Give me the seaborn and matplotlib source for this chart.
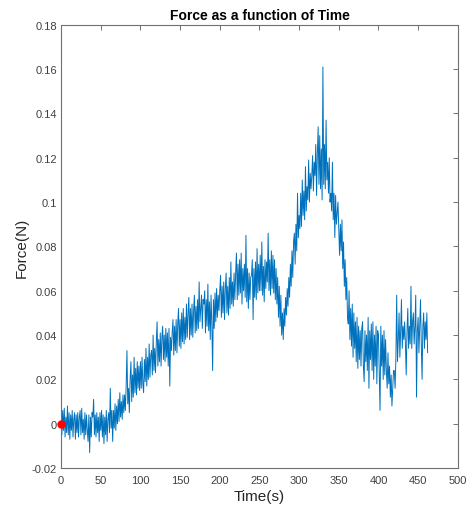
import numpy as np
import pandas as pd
import matplotlib
matplotlib.use("Agg")
import matplotlib.pyplot as plt
import seaborn as sns

# Force readings in milli-newtons, sampled every 1 s from t = 0 s
force_mN = [
    4, -5, 6, -3, 7, -6, 3, -4, 8, -5, 5, -7, 4, -3, 6, -6, 2, 5, -7, 4,
    -4, 5, -6, 3, 6, -5, 7, -4, 2, -7, 5, -5, 4, -3, -8, 4, -13, 3, -6, 5,
    3, 11, -5, 4, -6, 5, -4, 3, -8, 5, -3, 6, -6, 4, -9, 3, -5, 6, -8, 2,
    5, -4, 16, -2, 6, -8, 6, -2, 9, -3, 8, 0, 11, 1, 14, 3, 10, 2, 13, 5,
    13, 6, 17, 33, 9, 16, 5, 20, 28, 10, 22, 12, 30, 14, 25, 13, 28, 16, 26, 15,
    28, 16, 30, 18, 14, 29, 19, 34, 17, 30, 20, 36, 21, 31, 33, 22, 40, 24, 34, 23,
    37, 46, 26, 38, 28, 41, 26, 39, 44, 29, 40, 28, 43, 30, 41, 26, 43, 17, 39, 33,
    41, 47, 31, 44, 33, 47, 32, 45, 52, 35, 47, 34, 50, 37, 52, 36, 48, 38, 54, 39,
    50, 57, 38, 52, 40, 54, 39, 51, 58, 41, 53, 42, 56, 43, 64, 46, 52, 58, 43, 56,
    54, 60, 41, 56, 44, 63, 42, 55, 38, 58, 45, 24, 56, 43, 59, 46, 61, 48, 58, 51,
    60, 67, 48, 62, 50, 64, 47, 61, 68, 50, 62, 49, 66, 52, 73, 54, 64, 53, 68, 56,
    68, 77, 56, 72, 58, 74, 59, 77, 54, 70, 60, 72, 57, 85, 55, 70, 52, 68, 56, 66,
    67, 74, 47, 70, 57, 73, 56, 79, 59, 72, 60, 76, 60, 82, 58, 71, 55, 74, 61, 73,
    64, 86, 60, 74, 58, 78, 61, 76, 59, 74, 56, 70, 54, 66, 48, 62, 44, 58, 40, 50,
    38, 52, 44, 57, 49, 61, 53, 66, 57, 72, 62, 78, 66, 82, 86, 72, 90, 78, 104, 84,
    94, 88, 104, 89, 110, 94, 105, 92, 116, 96, 107, 101, 119, 100, 113, 106, 112, 121, 105, 118,
    112, 126, 103, 122, 134, 108, 130, 106, 124, 101, 161, 108, 126, 106, 137, 110, 118, 104, 120, 100,
    104, 96, 118, 92, 104, 84, 103, 90, 95, 100, 88, 76, 90, 78, 92, 70, 82, 62, 74, 56,
    66, 48, 45, 60, 38, 52, 35, 54, 30, 50, 34, 46, 28, 48, 25, 44, 29, 42, 26, 43,
    46, 26, 19, 42, 28, 40, 24, 48, 16, 42, 29, 45, 24, 46, 20, 40, 26, 44, 18, 42,
    40, 24, 6, 44, 26, 40, 20, 42, 22, 38, 24, 16, 32, 18, 26, 12, 22, 8, 16, 24,
    24, 16, 30, 58, 28, 38, 50, 30, 42, 56, 34, 44, 38, 46, 36, 22, 42, 52, 34, 44,
    36, 62, 34, 46, 50, 36, 44, 58, 12, 42, 48, 32, 44, 56, 36, 20, 44, 50, 34, 46,
    38, 50, 32,
]
time_s = np.arange(len(force_mN))
force_N = np.array(force_mN) / 1000.0

start_time = [0]
start_force = [0]

xticks = [0, 50, 100, 150, 200, 250, 300, 350, 400, 450, 500]
yticks = [-0.02, 0, 0.02, 0.04, 0.06, 0.08, 0.1, 0.12, 0.14, 0.16, 0.18]
ytick_labels = ['-0.02', '0', '0.02', '0.04', '0.06', '0.08', '0.1', '0.12', '0.14', '0.16', '0.18']

df = pd.DataFrame({'Time': time_s, 'Force': force_N})

sns.set_style('white')
plt.rcParams['font.family'] = ['Liberation Sans', 'DejaVu Sans']

fig = plt.figure(figsize=(4.70, 5.06), dpi=100)
ax = fig.add_axes([0.130, 0.073, 0.844, 0.876])

sns.lineplot(data=df, x='Time', y='Force', ax=ax, estimator=None, sort=False,
             color='#0072BD', linewidth=0.7)
ax.plot(start_time, start_force, 'o', color='#FF0000', markersize=5, zorder=5, clip_on=False)

ax.set_xlim(0, 500)
ax.set_ylim(-0.02, 0.18)
ax.set_xticks(xticks)
ax.set_xticklabels([str(t) for t in xticks])
ax.set_yticks(yticks)
ax.set_yticklabels(ytick_labels)

axis_col = '#707070'
for sp in ax.spines.values():
    sp.set_visible(True)
    sp.set_color(axis_col)
    sp.set_linewidth(0.8)
ax.tick_params(axis='both', direction='in', length=3.5, width=0.7, color=axis_col,
               labelcolor='#404040', labelsize=8, top=True, right=True)
ax.tick_params(axis='x', pad=5)
ax.tick_params(axis='y', pad=3)

ax.set_xlabel('Time(s)', fontsize=11, color='#262626', labelpad=3)
ax.set_ylabel('Force(N)', fontsize=11, color='#262626', labelpad=2)
ax.set_title('Force as a function of Time', fontsize=10, fontweight='bold', color='#000000', pad=4)

fig.savefig('out.png', dpi=100)
